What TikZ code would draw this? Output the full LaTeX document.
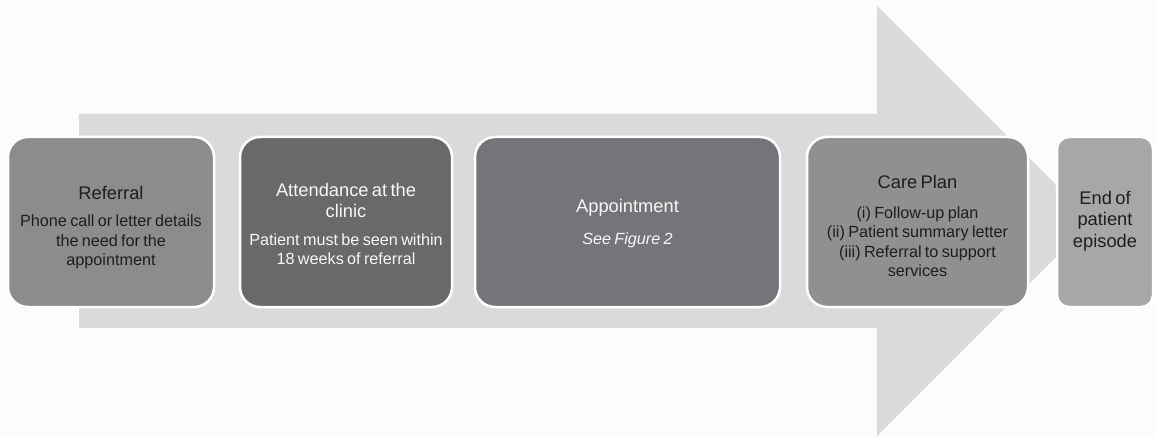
\documentclass[tikz,border=0pt]{standalone}
\usepackage{fontspec}
\setmainfont{Liberation Sans}
\definecolor{bgc}{HTML}{FCFCFC}
\definecolor{arrowc}{HTML}{D9DADB}
\definecolor{refc}{HTML}{8B8C8E}
\definecolor{attc}{HTML}{69696B}
\definecolor{appc}{HTML}{747578}
\definecolor{carec}{HTML}{8F9092}
\definecolor{endc}{HTML}{A6A7A9}
\definecolor{darktext}{HTML}{1E1E1E}
\definecolor{lighttext}{HTML}{F7F7F7}
\newcommand{\ttlfont}{\fontsize{18.3}{21.7}\selectfont}
\newcommand{\bdyfont}{\fontsize{16.2}{19.5}\selectfont}
\tikzset{
  stagebox/.style={rounded corners=20pt, draw=white, line width=2.5pt,
    minimum height=170pt, inner sep=0pt},
  stagetext/.style={inner sep=0pt, align=center, text width=#1},
}
\begin{document}
\begin{tikzpicture}[x=1pt,y=-1pt]
\fill[bgc] (0,0) rectangle (1155,438);
\useasboundingbox (0,0) rectangle (1155,438);
% big background arrow
\fill[arrowc] (79,114) -- (877,114) -- (877,6) -- (1092,221) -- (877,436) -- (877,328) -- (79,328) -- cycle;
% stage boxes
\node[stagebox, fill=refc, minimum width=206pt] (ref) at (111,222) {};
\node[stagebox, fill=attc, minimum width=212pt] (att) at (346,222) {};
\node[stagebox, fill=appc, minimum width=305pt] (app) at (627.5,222) {};
\node[stagebox, fill=carec, minimum width=221pt] (care) at (917.5,222) {};
\node[stagebox, fill=endc, minimum width=96pt, rounded corners=12pt] (end) at (1105,222) {};
% stage texts
\node[stagetext=200pt, text=darktext] (reftext) at ([yshift=-6pt]ref.center)
  {{\ttlfont Referral\par}\vspace{7.5pt}{\bdyfont Phone call or letter details\\the need for the\\appointment\par}};
\node[stagetext=206pt, text=lighttext] (atttext) at ([yshift=-2pt]att.center)
  {{\ttlfont Attendance at the\\clinic\par}\vspace{8pt}{\bdyfont Patient must be seen within\\18 weeks of referral\par}};
\node[stagetext=295pt, text=lighttext] (apptext) at ([yshift=-1.5pt]app.center)
  {{\ttlfont Appointment\par}\vspace{13pt}{\bdyfont\itshape See Figure 2\par}};
\node[stagetext=215pt, text=darktext] (caretext) at ([yshift=-4pt]care.center)
  {{\ttlfont Care Plan\par}\vspace{10pt}{\bdyfont (i) Follow-up plan\\(ii) Patient summary letter\\(iii) Referral to support\\services\par}};
\node[stagetext=90pt, text=darktext] (endtext) at ([yshift=1pt]end.center)
  {{\ttlfont End of\\patient\\episode\par}};
\end{tikzpicture}
\end{document}
